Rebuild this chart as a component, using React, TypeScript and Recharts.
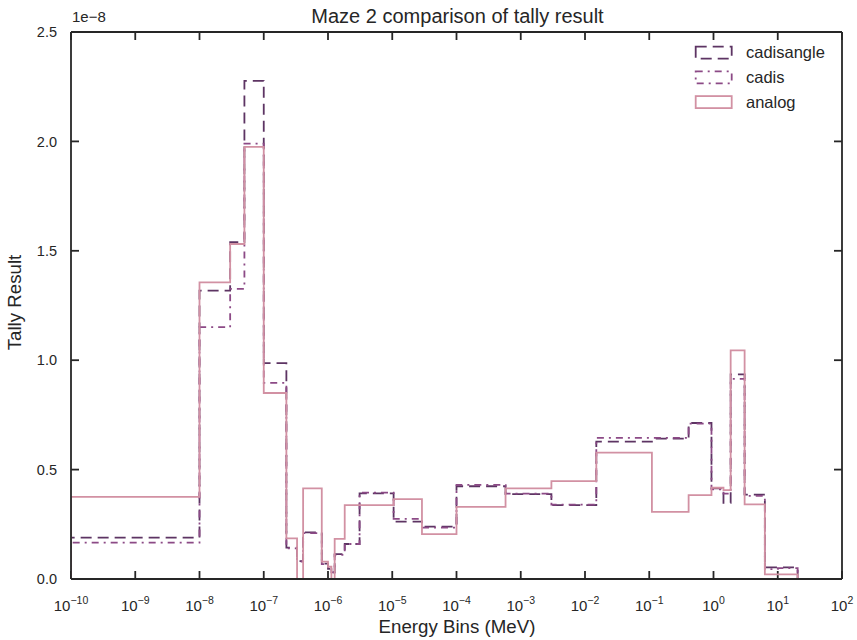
import React from 'react';
import { LineChart, Line, XAxis, YAxis, Legend, ReferenceLine } from 'recharts';

// Energy bin edges (MeV)
const edges = [1e-10, 1e-8, 3e-8, 5e-8, 1e-7, 2.25e-7, 3.3e-7, 4.1e-7, 8e-7, 1e-6, 1.13e-6, 1.27e-6, 1.82e-6, 3.1e-6, 1.05e-5, 2.9e-5, 1e-4, 5.8e-4, 3e-3, 1.5e-2, 1.1e-1, 4.1e-1, 0.93, 1.43, 1.85, 3.05, 6.3, 10, 20.4];

// Tally results per bin, in units of 1e-8
const cadisangle = [0.189, 1.318, 1.539, 2.277, 0.987, 0.143, 0.082, 0.213, 0.07, 0.046, 0.03, 0.114, 0.16, 0.391, 0.262, 0.239, 0.424, 0.388, 0.338, 0.628, 0.642, 0.713, 0.414, 0.348, 0.935, 0.386, 0.053, 0.053];
const cadis = [0.166, 1.151, 1.326, 1.99, 0.896, 0.14, 0.08, 0.21, 0.068, 0.045, 0.03, 0.11, 0.16, 0.395, 0.275, 0.235, 0.43, 0.39, 0.34, 0.645, 0.645, 0.71, 0.41, 0.39, 0.915, 0.38, 0.045, 0.05];
const analog = [0.375, 1.356, 1.531, 1.975, 0.85, 0.186, 0, 0.414, 0.079, 0.056, 0, 0.183, 0.338, 0.338, 0.365, 0.205, 0.33, 0.414, 0.447, 0.578, 0.307, 0.383, 0.417, 0.406, 1.045, 0.341, 0.021, 0.021];

const xTicks = [1e-10, 1e-9, 1e-8, 1e-7, 1e-6, 1e-5, 1e-4, 1e-3, 1e-2, 1e-1, 1e0, 1e1, 1e2];
const yTicks = [0, 0.5, 1.0, 1.5, 2.0, 2.5];
const seriesNames = ['cadisangle', 'cadis', 'analog'];

const FONT = '"Liberation Sans", Arial, Helvetica, sans-serif';
const INK = '#262626';
const COLORS: Record<string, string> = { cadisangle: '#5d3463', cadis: '#8c4a86', analog: '#d291a3' };
const DASH: Record<string, string | undefined> = { cadisangle: '11 6', cadis: '7 5 2 5', analog: undefined };
const TICK_LEN = 8;
const MARGIN = { top: 31, right: 14, bottom: 16, left: 0 };
const X_AXIS_H = 45;
const CHART_H = 640;
const PLOT_TOP = MARGIN.top;
const PLOT_BOTTOM = CHART_H - MARGIN.bottom - X_AXIS_H;
const Y_MAX = 2.5;
// tick length expressed in y-data units, for inward top/bottom tick marks
const TICK_Y = (Y_MAX * TICK_LEN) / (PLOT_BOTTOM - PLOT_TOP);

const rows: any[] = [];
rows.push({ e: edges[0], cadisangle: 0, cadis: 0, analog: 0 });
for (let i = 0; i < analog.length; i++) {
  rows.push({ e: edges[i], cadisangle: cadisangle[i], cadis: cadis[i], analog: analog[i] });
}
rows.push({ e: edges[edges.length - 1], cadisangle: 0, cadis: 0, analog: 0 });

function XTick(props: any) {
  const { x, payload } = props;
  const exp = Math.round(Math.log10(payload.value));
  const s = exp < 0 ? '\u2212' + Math.abs(exp) : String(exp);
  return (
    <text x={x} y={PLOT_BOTTOM + 32} textAnchor="middle" fontFamily={FONT} fill={INK}>
      <tspan fontSize={15}>10</tspan>
      <tspan fontSize={10.5} dy={-7}>{s}</tspan>
    </text>
  );
}

function RightTick(props: any) {
  const { x, y } = props;
  return <line x1={x} x2={x + TICK_LEN} y1={y} y2={y} stroke={INK} strokeWidth={1.8} />;
}

const AXIS = { stroke: INK, strokeWidth: 1.8 };

function LegendBox() {
  return (
    <svg width={160} height={80}>
      {seriesNames.map((n, i) => (
        <g key={n}>
          <rect x={5.7} y={6.7 + i * 24.7} width={36} height={12} fill="none" stroke={COLORS[n]} strokeWidth={1.8} strokeDasharray={DASH[n]} />
          <text x={56} y={12.7 + i * 24.7} dy="0.35em" fontSize={16.5} fontFamily={FONT} fill={INK}>{n}</text>
        </g>
      ))}
    </svg>
  );
}

export default function App() {
  return (
    <div style={{ position: 'fixed', left: 0, top: 0, width: 857, height: 640, background: '#fff' }}>
      <LineChart width={857} height={CHART_H} data={rows} margin={MARGIN}>
        <XAxis
          dataKey="e"
          type="number"
          scale="log"
          domain={[1e-10, 1e2]}
          ticks={xTicks}
          allowDataOverflow
          height={X_AXIS_H}
          tickSize={0}
          tickMargin={0}
          tick={<XTick />}
          axisLine={AXIS}
          tickLine={false}
          interval={0}
          label={{
            content: () => (
              <text x={457} y={633} textAnchor="middle" fontSize={18.7} fontFamily={FONT} fill={INK}>Energy Bins (MeV)</text>
            ),
          }}
        />
        <XAxis
          xAxisId="top"
          orientation="top"
          dataKey="e"
          type="number"
          scale="log"
          domain={[1e-10, 1e2]}
          ticks={xTicks}
          allowDataOverflow
          height={1}
          tick={false}
          tickLine={false}
          axisLine={AXIS}
          label={{
            content: () => (
              <text x={457.5} y={22.5} textAnchor="middle" fontSize={20} fontFamily={FONT} fill={INK}>Maze 2 comparison of tally result</text>
            ),
          }}
        />
        <YAxis
          type="number"
          domain={[0, Y_MAX]}
          ticks={yTicks}
          width={71}
          tickSize={-TICK_LEN}
          tickMargin={22}
          interval={0}
          tickFormatter={(v: number) => v.toFixed(1)}
          tick={{ fontSize: 14.5, fill: INK, fontFamily: FONT }}
          axisLine={AXIS}
          tickLine={AXIS}
          label={{
            content: () => (
              <g>
                <text x={20.5} y={302.5} transform="rotate(-90, 20.5, 302.5)" textAnchor="middle" fontSize={18.7} fontFamily={FONT} fill={INK}>Tally Result</text>
                <text x={72} y={22} fontSize={15} fontFamily={FONT} fill={INK}>1e{'\u2212'}8</text>
              </g>
            ),
          }}
        />
        <YAxis
          yAxisId="right"
          orientation="right"
          type="number"
          domain={[0, Y_MAX]}
          ticks={yTicks}
          width={1}
          tickSize={-TICK_LEN}
          tickMargin={0}
          interval={0}
          tick={<RightTick />}
          tickLine={false}
          axisLine={AXIS}
        />
        {/* invisible series tying the frame axes to the data so their ticks are laid out */}
        <Line
          xAxisId="top"
          yAxisId="right"
          dataKey="analog"
          type="stepAfter"
          stroke="transparent"
          dot={false}
          activeDot={false}
          legendType="none"
          isAnimationActive={false}
        />
        {/* inward decade tick marks on the bottom and top frame edges */}
        {xTicks.map((t) => (
          <ReferenceLine key={'b' + t} segment={[{ x: t, y: 0 }, { x: t, y: TICK_Y }]} stroke={INK} strokeWidth={1.8} ifOverflow="visible" />
        ))}
        {xTicks.map((t) => (
          <ReferenceLine key={'t' + t} segment={[{ x: t, y: Y_MAX - TICK_Y }, { x: t, y: Y_MAX }]} stroke={INK} strokeWidth={1.8} ifOverflow="visible" />
        ))}
        {seriesNames.map((n) => (
          <Line
            key={n}
            dataKey={n}
            type="stepAfter"
            stroke={COLORS[n]}
            strokeWidth={1.8}
            strokeDasharray={DASH[n]}
            dot={false}
            activeDot={false}
            isAnimationActive={false}
          />
        ))}
        <Legend
          layout="vertical"
          align="center"
          verticalAlign="middle"
          content={() => <LegendBox />}
          wrapperStyle={{ position: 'absolute', left: 690, top: 40, width: 160, height: 80 }}
        />
      </LineChart>
    </div>
  );
}
